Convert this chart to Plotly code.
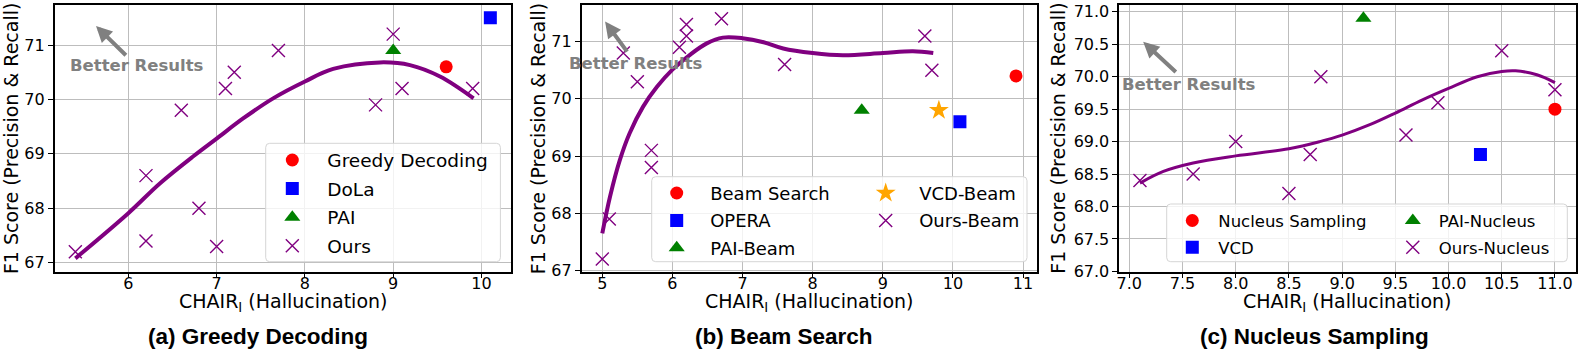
import plotly.graph_objects as go

W, H = 1578, 351

# ---------------- data ----------------
# (a) Greedy decoding
a_greedy_x, a_greedy_y = [9.6], [70.6]
a_dola_x, a_dola_y = [10.1], [71.5]
a_pai_x, a_pai_y = [9.0], [70.9]
a_ours_x = [5.4, 6.2, 6.2, 6.6, 6.8, 7.0, 7.1, 7.2, 7.7, 8.8, 9.0, 9.1, 9.9]
a_ours_y = [67.2, 68.6, 67.4, 69.8, 68.0, 67.3, 70.2, 70.5, 70.9, 69.9, 71.2, 70.2, 70.2]
a_fit_x = [5.40, 6.00, 6.36, 6.74, 7.00, 7.30, 7.64, 8.00, 8.32, 8.85, 9.19, 9.53, 9.91]
a_fit_y = [67.08, 67.91, 68.46, 68.96, 69.28, 69.65, 70.02, 70.33, 70.56, 70.68, 70.63, 70.42, 70.02]

# (b) Beam search
b_beam_x, b_beam_y = [10.9], [70.4]
b_opera_x, b_opera_y = [10.1], [69.6]
b_pai_x, b_pai_y = [8.7], [69.8]
b_vcd_x, b_vcd_y = [9.8], [69.8]
b_ours_x = [5.0, 5.1, 5.3, 5.5, 5.7, 5.7, 6.1, 6.2, 6.2, 6.7, 7.6, 9.6, 9.7]
b_ours_y = [67.2, 67.9, 70.8, 70.3, 69.1, 68.8, 70.9, 71.1, 71.3, 71.4, 70.6, 71.1, 70.5]
b_fit_x = [5.0, 5.11, 5.25, 5.39, 5.58, 5.78, 6.0, 6.25, 6.49, 6.72, 7.0, 7.3, 7.58, 8.0, 8.43, 9.0, 9.43, 9.72]
b_fit_y = [67.65, 68.29, 68.93, 69.40, 69.86, 70.21, 70.51, 70.77, 70.97, 71.07, 71.06, 70.99, 70.88, 70.80, 70.76, 70.80, 70.83, 70.80]

# (c) Nucleus sampling
c_nucleus_x, c_nucleus_y = [11.0], [69.5]
c_vcd_x, c_vcd_y = [10.3], [68.8]
c_pai_x, c_pai_y = [9.2], [70.9]
c_ours_x = [7.1, 7.6, 8.0, 8.5, 8.7, 8.8, 9.6, 9.9, 10.5, 11.0]
c_ours_y = [68.4, 68.5, 69.0, 68.2, 68.8, 70.0, 69.1, 69.6, 70.4, 69.8]
c_fit_x = [7.10, 7.32, 7.60, 8.0, 8.5, 8.79, 9.0, 9.26, 9.5, 9.75, 10.0, 10.27, 10.5, 10.63, 10.83, 11.0]
c_fit_y = [68.36, 68.54, 68.67, 68.78, 68.89, 69.0, 69.10, 69.26, 69.44, 69.64, 69.82, 70.0, 70.08, 70.09, 70.03, 69.91]

a_xticks = [6, 7, 8, 9, 10]
a_yticks = [67, 68, 69, 70, 71]
b_xticks = [5, 6, 7, 8, 9, 10, 11]
b_yticks = [67, 68, 69, 70, 71]
c_xticks = [7.0, 7.5, 8.0, 8.5, 9.0, 9.5, 10.0, 10.5, 11.0]
c_yticks = [67.0, 67.5, 68.0, 68.5, 69.0, 69.5, 70.0, 70.5, 71.0]

captions = ["(a) Greedy Decoding", "(b) Beam Search", "(c) Nucleus Sampling"]
x_title = "CHAIR<sub>I</sub> (Hallucination)"
y_title = "F1 Score (Precision &amp; Recall)"
hint = "Better Results"

# ---------------- styling ----------------
FONT = "DejaVu Sans"
PURPLE = "#800080"
GRID = "#bdbdbd"


def px(xp):
    return xp / W


def py(yp):
    return 1 - yp / H


fig = go.Figure()


def add_marker(x, y, name, symbol, color, size, xa, ya, legend, rank, thin=False):
    if thin:
        marker = dict(symbol=symbol, size=size, color=color, line=dict(width=1.4, color=color))
    else:
        marker = dict(symbol=symbol, size=size, color=color, line=dict(width=0))
    fig.add_trace(go.Scatter(x=x, y=y, mode="markers", name=name, marker=marker,
                             xaxis=xa, yaxis=ya, legend=legend, legendgroup=name + legend,
                             legendrank=rank))


def add_fit(x, y, xa, ya, width):
    fig.add_trace(go.Scatter(x=x, y=y, mode="lines",
                             line=dict(color=PURPLE, width=width, shape="spline", smoothing=1.0),
                             xaxis=xa, yaxis=ya, showlegend=False, hoverinfo="skip"))


# panel a
add_fit(a_fit_x, a_fit_y, "x", "y", 4)
add_marker(a_ours_x, a_ours_y, "Ours", "x-thin", PURPLE, 13, "x", "y", "legend", 4, thin=True)
add_marker(a_greedy_x, a_greedy_y, "Greedy Decoding", "circle", "#ff0000", 13, "x", "y", "legend", 1)
add_marker(a_dola_x, a_dola_y, "DoLa", "square", "#0000ff", 13, "x", "y", "legend", 2)
add_marker(a_pai_x, a_pai_y, "PAI", "triangle-up", "#008000", 14, "x", "y", "legend", 3)

# panel b
add_fit(b_fit_x, b_fit_y, "x2", "y2", 4)
add_marker(b_ours_x, b_ours_y, "Ours-Beam", "x-thin", PURPLE, 13, "x2", "y2", "legend3", 2, thin=True)
add_marker(b_beam_x, b_beam_y, "Beam Search", "circle", "#ff0000", 13, "x2", "y2", "legend2", 1)
add_marker(b_opera_x, b_opera_y, "OPERA", "square", "#0000ff", 13, "x2", "y2", "legend2", 2)
add_marker(b_pai_x, b_pai_y, "PAI-Beam", "triangle-up", "#008000", 14, "x2", "y2", "legend2", 3)
add_marker(b_vcd_x, b_vcd_y, "VCD-Beam", "star", "#ffa500", 15, "x2", "y2", "legend3", 1)

# panel c
add_fit(c_fit_x, c_fit_y, "x3", "y3", 3)
add_marker(c_ours_x, c_ours_y, "Ours-Nucleus", "x-thin", PURPLE, 13, "x3", "y3", "legend5", 2, thin=True)
add_marker(c_nucleus_x, c_nucleus_y, "Nucleus Sampling", "circle", "#ff0000", 13, "x3", "y3", "legend4", 1)
add_marker(c_vcd_x, c_vcd_y, "VCD", "square", "#0000ff", 13, "x3", "y3", "legend4", 2)
add_marker(c_pai_x, c_pai_y, "PAI-Nucleus", "triangle-up", "#008000", 14, "x3", "y3", "legend5", 1)


def axis_common(ticks, fmt=None, standoff=0):
    d = dict(tickvals=ticks, showgrid=True, gridcolor=GRID, gridwidth=1.2, zeroline=False,
             showline=True, mirror=True, linecolor="black", linewidth=1.5,
             ticks="outside", ticklen=5, tickwidth=1.2, tickcolor="black",
             ticklabelstandoff=standoff,
             tickfont=dict(family=FONT, size=16, color="black"))
    if fmt:
        d["tickformat"] = fmt
    return d


XSO = -9
ydom = [py(271.7), py(5)]
layout = dict(
    width=W, height=H, margin=dict(l=0, r=0, t=0, b=0, autoexpand=False),
    paper_bgcolor="white", plot_bgcolor="white",
    font=dict(family=FONT, color="black"),
    xaxis=dict(domain=[px(54.6), px(511)], range=[5.165, 10.334], anchor="y", **axis_common(a_xticks, None, XSO)),
    yaxis=dict(domain=ydom, range=[66.835, 71.735], anchor="x", **axis_common(a_yticks)),
    xaxis2=dict(domain=[px(581.6), px(1036.7)], range=[4.705, 11.195], anchor="y2", **axis_common(b_xticks, None, XSO)),
    yaxis2=dict(domain=ydom, range=[66.98, 71.64], anchor="x2", **axis_common(b_yticks)),
    xaxis3=dict(domain=[px(1119.2), px(1575.7)], range=[6.905, 11.195], anchor="y3", **axis_common(c_xticks, ".1f", XSO)),
    yaxis3=dict(domain=ydom, range=[66.995, 71.105], anchor="x3", **axis_common(c_yticks, ".1f")),
)


def legend_cfg(left, top, size, itemwidth, gap):
    return dict(x=px(left), y=py(top), xanchor="left", yanchor="top", orientation="v",
                bgcolor="rgba(0,0,0,0)", borderwidth=0, itemwidth=itemwidth,
                tracegroupgap=gap, font=dict(family=FONT, size=size, color="black"),
                itemclick=False, itemdoubleclick=False)


layout["legend"] = legend_cfg(257.3, 141.5, 18.5, 60, 1.5)
layout["legend2"] = legend_cfg(643.2, 174.8, 18, 57, 1)
layout["legend3"] = legend_cfg(852.2, 174.8, 18, 57, 1)
layout["legend4"] = legend_cfg(1166.3, 203.3, 16.5, 42, 2.2)
layout["legend5"] = legend_cfg(1386.8, 203.3, 16.5, 42, 2.2)
fig.update_layout(**layout)


# legend frames (matplotlib style)
def rrect(x0, y0, x1, y1, r=4):
    X = lambda v: px(v)
    Y = lambda v: py(v)
    return (f"M {X(x0 + r)},{Y(y0)} L {X(x1 - r)},{Y(y0)} Q {X(x1)},{Y(y0)} {X(x1)},{Y(y0 + r)} "
            f"L {X(x1)},{Y(y1 - r)} Q {X(x1)},{Y(y1)} {X(x1 - r)},{Y(y1)} "
            f"L {X(x0 + r)},{Y(y1)} Q {X(x0)},{Y(y1)} {X(x0)},{Y(y1 - r)} "
            f"L {X(x0)},{Y(y0 + r)} Q {X(x0)},{Y(y0)} {X(x0 + r)},{Y(y0)} Z")


for box in [(265.7, 143.3, 500.4, 261.7), (651.7, 176.7, 1027, 261.7), (1166.7, 204, 1567.3, 261.7)]:
    fig.add_shape(type="path", path=rrect(*box), xref="paper", yref="paper", layer="above",
                  fillcolor="rgba(255,255,255,0.8)", line=dict(color="#d5d5d5", width=1))

# "Better Results" hints
GRAY = "#808080"
hints = [("x", "y", 6.093, 70.62, 5.989, 70.785, 5.634, 71.35),
         ("x2", "y2", 5.487, 70.62, 5.37, 70.80, 5.04, 71.35),
         ("x3", "y3", 7.558, 69.88, 7.451, 70.05, 7.13, 70.54)]
for xa, ya, tx, ty, ax0, ay0, hx, hy in hints:
    fig.add_annotation(x=hx, y=hy, ax=ax0, ay=ay0, xref=xa, yref=ya, axref=xa, ayref=ya,
                       text="", showarrow=True, arrowhead=2, arrowsize=0.8, arrowwidth=4,
                       arrowcolor=GRAY, standoff=0)
    fig.add_annotation(x=tx, y=ty, xref=xa, yref=ya, text="<b>" + hint + "</b>", showarrow=False,
                       xanchor="center", yanchor="middle",
                       font=dict(family=FONT, size=16.5, color=GRAY))

# axis titles and captions
x_centers = [(54.6 + 511) / 2, (581.6 + 1036.7) / 2, (1119.2 + 1575.7) / 2]
y_title_x = [11.8, 538.0, 1058.5]
cap_x = [257.5, 784.1, 1314.3]
for i in range(3):
    fig.add_annotation(x=px(x_centers[i]), y=py(302.5), xref="paper", yref="paper", text=x_title,
                       showarrow=False, xanchor="center", yanchor="middle",
                       font=dict(family=FONT, size=19, color="black"))
    fig.add_annotation(x=px(y_title_x[i]), y=py(138.3), xref="paper", yref="paper", text=y_title,
                       showarrow=False, xanchor="center", yanchor="middle", textangle=-90,
                       font=dict(family=FONT, size=19, color="black"))
    fig.add_annotation(x=px(cap_x[i]), y=py(336), xref="paper", yref="paper",
                       text="<b>" + captions[i] + "</b>", showarrow=False,
                       xanchor="center", yanchor="middle",
                       font=dict(family="Liberation Sans", size=22.5, color="black"))

fig.write_html("out.html", config={"displayModeBar": False},
               post_script="document.body.style.margin='0';document.body.style.overflow='hidden';")
